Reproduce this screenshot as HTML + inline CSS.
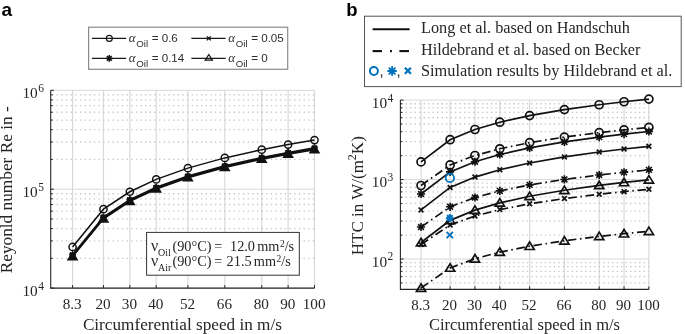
<!DOCTYPE html><html><head><meta charset="utf-8"><style>html,body{margin:0;padding:0;background:#fff;}svg{display:block;will-change:transform;}</style></head><body><svg width="685" height="334" viewBox="0 0 685 334">
<rect width="685" height="334" fill="#fff"/>
<line x1="72.60" y1="90.30" x2="72.60" y2="288.10" stroke="#d9d9d9" stroke-width="1.2"/>
<line x1="103.46" y1="90.30" x2="103.46" y2="288.10" stroke="#d9d9d9" stroke-width="1.2"/>
<line x1="129.84" y1="90.30" x2="129.84" y2="288.10" stroke="#d9d9d9" stroke-width="1.2"/>
<line x1="156.22" y1="90.30" x2="156.22" y2="288.10" stroke="#d9d9d9" stroke-width="1.2"/>
<line x1="187.88" y1="90.30" x2="187.88" y2="288.10" stroke="#d9d9d9" stroke-width="1.2"/>
<line x1="224.81" y1="90.30" x2="224.81" y2="288.10" stroke="#d9d9d9" stroke-width="1.2"/>
<line x1="261.74" y1="90.30" x2="261.74" y2="288.10" stroke="#d9d9d9" stroke-width="1.2"/>
<line x1="288.12" y1="90.30" x2="288.12" y2="288.10" stroke="#d9d9d9" stroke-width="1.2"/>
<line x1="314.50" y1="90.30" x2="314.50" y2="288.10" stroke="#d9d9d9" stroke-width="1.2"/>
<line x1="50.70" y1="90.30" x2="314.50" y2="90.30" stroke="#d9d9d9" stroke-width="1"/>
<line x1="50.70" y1="288.10" x2="314.50" y2="288.10" stroke="#d9d9d9" stroke-width="1"/>
<line x1="51.95" y1="258.33" x2="314.50" y2="258.33" stroke="#c4c4c4" stroke-width="1.3" stroke-dasharray="1.3 3.359"/>
<line x1="51.95" y1="240.91" x2="314.50" y2="240.91" stroke="#c4c4c4" stroke-width="1.3" stroke-dasharray="1.3 3.359"/>
<line x1="51.95" y1="228.56" x2="314.50" y2="228.56" stroke="#c4c4c4" stroke-width="1.3" stroke-dasharray="1.3 3.359"/>
<line x1="51.95" y1="218.97" x2="314.50" y2="218.97" stroke="#c4c4c4" stroke-width="1.3" stroke-dasharray="1.3 3.359"/>
<line x1="51.95" y1="211.14" x2="314.50" y2="211.14" stroke="#c4c4c4" stroke-width="1.3" stroke-dasharray="1.3 3.359"/>
<line x1="51.95" y1="204.52" x2="314.50" y2="204.52" stroke="#c4c4c4" stroke-width="1.3" stroke-dasharray="1.3 3.359"/>
<line x1="51.95" y1="198.78" x2="314.50" y2="198.78" stroke="#c4c4c4" stroke-width="1.3" stroke-dasharray="1.3 3.359"/>
<line x1="51.95" y1="193.73" x2="314.50" y2="193.73" stroke="#c4c4c4" stroke-width="1.3" stroke-dasharray="1.3 3.359"/>
<line x1="50.70" y1="189.20" x2="314.50" y2="189.20" stroke="#d9d9d9" stroke-width="1"/>
<line x1="51.95" y1="159.43" x2="314.50" y2="159.43" stroke="#c4c4c4" stroke-width="1.3" stroke-dasharray="1.3 3.359"/>
<line x1="51.95" y1="142.01" x2="314.50" y2="142.01" stroke="#c4c4c4" stroke-width="1.3" stroke-dasharray="1.3 3.359"/>
<line x1="51.95" y1="129.66" x2="314.50" y2="129.66" stroke="#c4c4c4" stroke-width="1.3" stroke-dasharray="1.3 3.359"/>
<line x1="51.95" y1="120.07" x2="314.50" y2="120.07" stroke="#c4c4c4" stroke-width="1.3" stroke-dasharray="1.3 3.359"/>
<line x1="51.95" y1="112.24" x2="314.50" y2="112.24" stroke="#c4c4c4" stroke-width="1.3" stroke-dasharray="1.3 3.359"/>
<line x1="51.95" y1="105.62" x2="314.50" y2="105.62" stroke="#c4c4c4" stroke-width="1.3" stroke-dasharray="1.3 3.359"/>
<line x1="51.95" y1="99.88" x2="314.50" y2="99.88" stroke="#c4c4c4" stroke-width="1.3" stroke-dasharray="1.3 3.359"/>
<line x1="51.95" y1="94.83" x2="314.50" y2="94.83" stroke="#c4c4c4" stroke-width="1.3" stroke-dasharray="1.3 3.359"/>
<path d="M50.70 90.30 V288.10 H314.50" fill="none" stroke="#262626" stroke-width="1.1"/>
<line x1="72.60" y1="288.10" x2="72.60" y2="285.10" stroke="#262626" stroke-width="1"/>
<line x1="103.46" y1="288.10" x2="103.46" y2="285.10" stroke="#262626" stroke-width="1"/>
<line x1="129.84" y1="288.10" x2="129.84" y2="285.10" stroke="#262626" stroke-width="1"/>
<line x1="156.22" y1="288.10" x2="156.22" y2="285.10" stroke="#262626" stroke-width="1"/>
<line x1="187.88" y1="288.10" x2="187.88" y2="285.10" stroke="#262626" stroke-width="1"/>
<line x1="224.81" y1="288.10" x2="224.81" y2="285.10" stroke="#262626" stroke-width="1"/>
<line x1="261.74" y1="288.10" x2="261.74" y2="285.10" stroke="#262626" stroke-width="1"/>
<line x1="288.12" y1="288.10" x2="288.12" y2="285.10" stroke="#262626" stroke-width="1"/>
<line x1="314.50" y1="288.10" x2="314.50" y2="285.10" stroke="#262626" stroke-width="1"/>
<line x1="50.70" y1="288.10" x2="53.90" y2="288.10" stroke="#262626" stroke-width="1"/>
<line x1="50.70" y1="258.33" x2="52.70" y2="258.33" stroke="#262626" stroke-width="1"/>
<line x1="50.70" y1="240.91" x2="52.70" y2="240.91" stroke="#262626" stroke-width="1"/>
<line x1="50.70" y1="228.56" x2="52.70" y2="228.56" stroke="#262626" stroke-width="1"/>
<line x1="50.70" y1="218.97" x2="52.70" y2="218.97" stroke="#262626" stroke-width="1"/>
<line x1="50.70" y1="211.14" x2="52.70" y2="211.14" stroke="#262626" stroke-width="1"/>
<line x1="50.70" y1="204.52" x2="52.70" y2="204.52" stroke="#262626" stroke-width="1"/>
<line x1="50.70" y1="198.78" x2="52.70" y2="198.78" stroke="#262626" stroke-width="1"/>
<line x1="50.70" y1="193.73" x2="52.70" y2="193.73" stroke="#262626" stroke-width="1"/>
<line x1="50.70" y1="189.20" x2="53.90" y2="189.20" stroke="#262626" stroke-width="1"/>
<line x1="50.70" y1="159.43" x2="52.70" y2="159.43" stroke="#262626" stroke-width="1"/>
<line x1="50.70" y1="142.01" x2="52.70" y2="142.01" stroke="#262626" stroke-width="1"/>
<line x1="50.70" y1="129.66" x2="52.70" y2="129.66" stroke="#262626" stroke-width="1"/>
<line x1="50.70" y1="120.07" x2="52.70" y2="120.07" stroke="#262626" stroke-width="1"/>
<line x1="50.70" y1="112.24" x2="52.70" y2="112.24" stroke="#262626" stroke-width="1"/>
<line x1="50.70" y1="105.62" x2="52.70" y2="105.62" stroke="#262626" stroke-width="1"/>
<line x1="50.70" y1="99.88" x2="52.70" y2="99.88" stroke="#262626" stroke-width="1"/>
<line x1="50.70" y1="94.83" x2="52.70" y2="94.83" stroke="#262626" stroke-width="1"/>
<line x1="50.70" y1="90.30" x2="53.90" y2="90.30" stroke="#262626" stroke-width="1"/>
<line x1="421.03" y1="100.10" x2="421.03" y2="289.40" stroke="#d9d9d9" stroke-width="1.2"/>
<line x1="450.10" y1="100.10" x2="450.10" y2="289.40" stroke="#d9d9d9" stroke-width="1.2"/>
<line x1="474.95" y1="100.10" x2="474.95" y2="289.40" stroke="#d9d9d9" stroke-width="1.2"/>
<line x1="499.80" y1="100.10" x2="499.80" y2="289.40" stroke="#d9d9d9" stroke-width="1.2"/>
<line x1="529.62" y1="100.10" x2="529.62" y2="289.40" stroke="#d9d9d9" stroke-width="1.2"/>
<line x1="564.41" y1="100.10" x2="564.41" y2="289.40" stroke="#d9d9d9" stroke-width="1.2"/>
<line x1="599.20" y1="100.10" x2="599.20" y2="289.40" stroke="#d9d9d9" stroke-width="1.2"/>
<line x1="624.05" y1="100.10" x2="624.05" y2="289.40" stroke="#d9d9d9" stroke-width="1.2"/>
<line x1="648.90" y1="100.10" x2="648.90" y2="289.40" stroke="#d9d9d9" stroke-width="1.2"/>
<line x1="400.40" y1="100.10" x2="648.90" y2="100.10" stroke="#d9d9d9" stroke-width="1"/>
<line x1="401.15" y1="282.92" x2="648.90" y2="282.92" stroke="#c4c4c4" stroke-width="1.3" stroke-dasharray="1.3 3.190"/>
<line x1="401.15" y1="276.63" x2="648.90" y2="276.63" stroke="#c4c4c4" stroke-width="1.3" stroke-dasharray="1.3 3.190"/>
<line x1="401.15" y1="271.31" x2="648.90" y2="271.31" stroke="#c4c4c4" stroke-width="1.3" stroke-dasharray="1.3 3.190"/>
<line x1="401.15" y1="266.70" x2="648.90" y2="266.70" stroke="#c4c4c4" stroke-width="1.3" stroke-dasharray="1.3 3.190"/>
<line x1="401.15" y1="262.64" x2="648.90" y2="262.64" stroke="#c4c4c4" stroke-width="1.3" stroke-dasharray="1.3 3.190"/>
<line x1="400.40" y1="259.00" x2="648.90" y2="259.00" stroke="#d9d9d9" stroke-width="1"/>
<line x1="401.15" y1="235.08" x2="648.90" y2="235.08" stroke="#c4c4c4" stroke-width="1.3" stroke-dasharray="1.3 3.190"/>
<line x1="401.15" y1="221.09" x2="648.90" y2="221.09" stroke="#c4c4c4" stroke-width="1.3" stroke-dasharray="1.3 3.190"/>
<line x1="401.15" y1="211.17" x2="648.90" y2="211.17" stroke="#c4c4c4" stroke-width="1.3" stroke-dasharray="1.3 3.190"/>
<line x1="401.15" y1="203.47" x2="648.90" y2="203.47" stroke="#c4c4c4" stroke-width="1.3" stroke-dasharray="1.3 3.190"/>
<line x1="401.15" y1="197.18" x2="648.90" y2="197.18" stroke="#c4c4c4" stroke-width="1.3" stroke-dasharray="1.3 3.190"/>
<line x1="401.15" y1="191.86" x2="648.90" y2="191.86" stroke="#c4c4c4" stroke-width="1.3" stroke-dasharray="1.3 3.190"/>
<line x1="401.15" y1="187.25" x2="648.90" y2="187.25" stroke="#c4c4c4" stroke-width="1.3" stroke-dasharray="1.3 3.190"/>
<line x1="401.15" y1="183.19" x2="648.90" y2="183.19" stroke="#c4c4c4" stroke-width="1.3" stroke-dasharray="1.3 3.190"/>
<line x1="400.40" y1="179.55" x2="648.90" y2="179.55" stroke="#d9d9d9" stroke-width="1"/>
<line x1="401.15" y1="155.63" x2="648.90" y2="155.63" stroke="#c4c4c4" stroke-width="1.3" stroke-dasharray="1.3 3.190"/>
<line x1="401.15" y1="141.64" x2="648.90" y2="141.64" stroke="#c4c4c4" stroke-width="1.3" stroke-dasharray="1.3 3.190"/>
<line x1="401.15" y1="131.72" x2="648.90" y2="131.72" stroke="#c4c4c4" stroke-width="1.3" stroke-dasharray="1.3 3.190"/>
<line x1="401.15" y1="124.02" x2="648.90" y2="124.02" stroke="#c4c4c4" stroke-width="1.3" stroke-dasharray="1.3 3.190"/>
<line x1="401.15" y1="117.73" x2="648.90" y2="117.73" stroke="#c4c4c4" stroke-width="1.3" stroke-dasharray="1.3 3.190"/>
<line x1="401.15" y1="112.41" x2="648.90" y2="112.41" stroke="#c4c4c4" stroke-width="1.3" stroke-dasharray="1.3 3.190"/>
<line x1="401.15" y1="107.80" x2="648.90" y2="107.80" stroke="#c4c4c4" stroke-width="1.3" stroke-dasharray="1.3 3.190"/>
<line x1="401.15" y1="103.74" x2="648.90" y2="103.74" stroke="#c4c4c4" stroke-width="1.3" stroke-dasharray="1.3 3.190"/>
<path d="M400.40 100.10 V289.40 H648.90" fill="none" stroke="#262626" stroke-width="1.1"/>
<line x1="421.03" y1="289.40" x2="421.03" y2="286.40" stroke="#262626" stroke-width="1"/>
<line x1="450.10" y1="289.40" x2="450.10" y2="286.40" stroke="#262626" stroke-width="1"/>
<line x1="474.95" y1="289.40" x2="474.95" y2="286.40" stroke="#262626" stroke-width="1"/>
<line x1="499.80" y1="289.40" x2="499.80" y2="286.40" stroke="#262626" stroke-width="1"/>
<line x1="529.62" y1="289.40" x2="529.62" y2="286.40" stroke="#262626" stroke-width="1"/>
<line x1="564.41" y1="289.40" x2="564.41" y2="286.40" stroke="#262626" stroke-width="1"/>
<line x1="599.20" y1="289.40" x2="599.20" y2="286.40" stroke="#262626" stroke-width="1"/>
<line x1="624.05" y1="289.40" x2="624.05" y2="286.40" stroke="#262626" stroke-width="1"/>
<line x1="648.90" y1="289.40" x2="648.90" y2="286.40" stroke="#262626" stroke-width="1"/>
<line x1="400.40" y1="282.92" x2="402.40" y2="282.92" stroke="#262626" stroke-width="1"/>
<line x1="400.40" y1="276.63" x2="402.40" y2="276.63" stroke="#262626" stroke-width="1"/>
<line x1="400.40" y1="271.31" x2="402.40" y2="271.31" stroke="#262626" stroke-width="1"/>
<line x1="400.40" y1="266.70" x2="402.40" y2="266.70" stroke="#262626" stroke-width="1"/>
<line x1="400.40" y1="262.64" x2="402.40" y2="262.64" stroke="#262626" stroke-width="1"/>
<line x1="400.40" y1="259.00" x2="403.60" y2="259.00" stroke="#262626" stroke-width="1"/>
<line x1="400.40" y1="235.08" x2="402.40" y2="235.08" stroke="#262626" stroke-width="1"/>
<line x1="400.40" y1="221.09" x2="402.40" y2="221.09" stroke="#262626" stroke-width="1"/>
<line x1="400.40" y1="211.17" x2="402.40" y2="211.17" stroke="#262626" stroke-width="1"/>
<line x1="400.40" y1="203.47" x2="402.40" y2="203.47" stroke="#262626" stroke-width="1"/>
<line x1="400.40" y1="197.18" x2="402.40" y2="197.18" stroke="#262626" stroke-width="1"/>
<line x1="400.40" y1="191.86" x2="402.40" y2="191.86" stroke="#262626" stroke-width="1"/>
<line x1="400.40" y1="187.25" x2="402.40" y2="187.25" stroke="#262626" stroke-width="1"/>
<line x1="400.40" y1="183.19" x2="402.40" y2="183.19" stroke="#262626" stroke-width="1"/>
<line x1="400.40" y1="179.55" x2="403.60" y2="179.55" stroke="#262626" stroke-width="1"/>
<line x1="400.40" y1="155.63" x2="402.40" y2="155.63" stroke="#262626" stroke-width="1"/>
<line x1="400.40" y1="141.64" x2="402.40" y2="141.64" stroke="#262626" stroke-width="1"/>
<line x1="400.40" y1="131.72" x2="402.40" y2="131.72" stroke="#262626" stroke-width="1"/>
<line x1="400.40" y1="124.02" x2="402.40" y2="124.02" stroke="#262626" stroke-width="1"/>
<line x1="400.40" y1="117.73" x2="402.40" y2="117.73" stroke="#262626" stroke-width="1"/>
<line x1="400.40" y1="112.41" x2="402.40" y2="112.41" stroke="#262626" stroke-width="1"/>
<line x1="400.40" y1="107.80" x2="402.40" y2="107.80" stroke="#262626" stroke-width="1"/>
<line x1="400.40" y1="103.74" x2="402.40" y2="103.74" stroke="#262626" stroke-width="1"/>
<line x1="400.40" y1="100.10" x2="403.60" y2="100.10" stroke="#262626" stroke-width="1"/>
<text x="72.20" y="309.30" font-size="15.2" text-anchor="middle" fill="#262626" style="font-family:'Liberation Serif',serif" >8.3</text>
<text x="420.53" y="309.90" font-size="15" text-anchor="middle" fill="#262626" style="font-family:'Liberation Serif',serif" >8.3</text>
<text x="103.06" y="309.30" font-size="15.2" text-anchor="middle" fill="#262626" style="font-family:'Liberation Serif',serif" >20</text>
<text x="449.60" y="309.90" font-size="15" text-anchor="middle" fill="#262626" style="font-family:'Liberation Serif',serif" >20</text>
<text x="129.44" y="309.30" font-size="15.2" text-anchor="middle" fill="#262626" style="font-family:'Liberation Serif',serif" >30</text>
<text x="474.45" y="309.90" font-size="15" text-anchor="middle" fill="#262626" style="font-family:'Liberation Serif',serif" >30</text>
<text x="155.82" y="309.30" font-size="15.2" text-anchor="middle" fill="#262626" style="font-family:'Liberation Serif',serif" >40</text>
<text x="499.30" y="309.90" font-size="15" text-anchor="middle" fill="#262626" style="font-family:'Liberation Serif',serif" >40</text>
<text x="187.48" y="309.30" font-size="15.2" text-anchor="middle" fill="#262626" style="font-family:'Liberation Serif',serif" >52</text>
<text x="529.12" y="309.90" font-size="15" text-anchor="middle" fill="#262626" style="font-family:'Liberation Serif',serif" >52</text>
<text x="224.41" y="309.30" font-size="15.2" text-anchor="middle" fill="#262626" style="font-family:'Liberation Serif',serif" >66</text>
<text x="563.91" y="309.90" font-size="15" text-anchor="middle" fill="#262626" style="font-family:'Liberation Serif',serif" >66</text>
<text x="261.34" y="309.30" font-size="15.2" text-anchor="middle" fill="#262626" style="font-family:'Liberation Serif',serif" >80</text>
<text x="598.70" y="309.90" font-size="15" text-anchor="middle" fill="#262626" style="font-family:'Liberation Serif',serif" >80</text>
<text x="287.72" y="309.30" font-size="15.2" text-anchor="middle" fill="#262626" style="font-family:'Liberation Serif',serif" >90</text>
<text x="623.55" y="309.90" font-size="15" text-anchor="middle" fill="#262626" style="font-family:'Liberation Serif',serif" >90</text>
<text x="314.10" y="309.30" font-size="15.2" text-anchor="middle" fill="#262626" style="font-family:'Liberation Serif',serif" >100</text>
<text x="648.40" y="309.90" font-size="15" text-anchor="middle" fill="#262626" style="font-family:'Liberation Serif',serif" >100</text>
<text fill="#262626" x="44.00" y="296.00" font-size="15.3" text-anchor="end" style="font-family:'Liberation Serif',serif">10<tspan font-size="11.5" dy="-6.5" dx="0.5">4</tspan></text>
<text fill="#262626" x="44.00" y="197.10" font-size="15.3" text-anchor="end" style="font-family:'Liberation Serif',serif">10<tspan font-size="11.5" dy="-6.5" dx="0.5">5</tspan></text>
<text fill="#262626" x="44.00" y="98.20" font-size="15.3" text-anchor="end" style="font-family:'Liberation Serif',serif">10<tspan font-size="11.5" dy="-6.5" dx="0.5">6</tspan></text>
<text fill="#262626" x="393.30" y="266.90" font-size="15.3" text-anchor="end" style="font-family:'Liberation Serif',serif">10<tspan font-size="11.5" dy="-6.5" dx="0.5">2</tspan></text>
<text fill="#262626" x="393.30" y="187.45" font-size="15.3" text-anchor="end" style="font-family:'Liberation Serif',serif">10<tspan font-size="11.5" dy="-6.5" dx="0.5">3</tspan></text>
<text fill="#262626" x="393.30" y="108.00" font-size="15.3" text-anchor="end" style="font-family:'Liberation Serif',serif">10<tspan font-size="11.5" dy="-6.5" dx="0.5">4</tspan></text>
<text x="182.40" y="330.30" font-size="17.2" text-anchor="middle" fill="#262626" style="font-family:'Liberation Serif',serif" >Circumferential speed in m/s</text>
<text x="524.50" y="330.20" font-size="16.5" text-anchor="middle" fill="#262626" style="font-family:'Liberation Serif',serif" >Circumferential speed in m/s</text>
<text fill="#262626" transform="translate(12.3,189.8) rotate(-90)" font-size="17.3" text-anchor="middle" style="font-family:'Liberation Serif',serif">Reyonld number Re in -</text>
<text fill="#262626" transform="translate(363.2,195.7) rotate(-90)" font-size="17" text-anchor="middle" style="font-family:'Liberation Serif',serif">HTC in W/(m<tspan font-size="12" dy="-7">2</tspan><tspan dy="7">K)</tspan></text>
<path d="M72.60 256.40 L103.46 218.63 L129.84 201.21 L156.22 188.86 L187.88 177.59 L224.81 167.35 L261.74 159.09 L288.12 154.03 L314.50 149.50" fill="none" stroke="#111" stroke-width="1.8"/>
<path d="M72.60 255.73 L103.46 217.95 L129.84 200.54 L156.22 188.18 L187.88 176.91 L224.81 166.67 L261.74 158.41 L288.12 153.35 L314.50 148.83" fill="none" stroke="#111" stroke-width="1.8"/>
<path d="M72.60 254.90 L103.46 217.12 L129.84 199.71 L156.22 187.35 L187.88 176.08 L224.81 165.84 L261.74 157.58 L288.12 152.52 L314.50 147.99" fill="none" stroke="#111" stroke-width="1.8"/>
<path d="M72.60 246.96 L103.46 209.18 L129.84 191.77 L156.22 179.41 L187.88 168.14 L224.81 157.90 L261.74 149.64 L288.12 144.58 L314.50 140.05" fill="none" stroke="#111" stroke-width="1.5"/>
<path d="M72.60 252.40L77.00 259.60L68.20 259.60Z" stroke="#111" stroke-width="1.6" fill="#111" stroke-linejoin="miter"/>
<path d="M103.46 214.63L107.86 221.83L99.06 221.83Z" stroke="#111" stroke-width="1.6" fill="#111" stroke-linejoin="miter"/>
<path d="M129.84 197.21L134.24 204.41L125.44 204.41Z" stroke="#111" stroke-width="1.6" fill="#111" stroke-linejoin="miter"/>
<path d="M156.22 184.86L160.62 192.06L151.82 192.06Z" stroke="#111" stroke-width="1.6" fill="#111" stroke-linejoin="miter"/>
<path d="M187.88 173.59L192.28 180.79L183.48 180.79Z" stroke="#111" stroke-width="1.6" fill="#111" stroke-linejoin="miter"/>
<path d="M224.81 163.35L229.21 170.55L220.41 170.55Z" stroke="#111" stroke-width="1.6" fill="#111" stroke-linejoin="miter"/>
<path d="M261.74 155.09L266.14 162.29L257.34 162.29Z" stroke="#111" stroke-width="1.6" fill="#111" stroke-linejoin="miter"/>
<path d="M288.12 150.03L292.52 157.23L283.72 157.23Z" stroke="#111" stroke-width="1.6" fill="#111" stroke-linejoin="miter"/>
<path d="M314.50 145.50L318.90 152.70L310.10 152.70Z" stroke="#111" stroke-width="1.6" fill="#111" stroke-linejoin="miter"/>
<path d="M69.80 252.93L75.40 258.53M69.80 258.53L75.40 252.93" stroke="#111" stroke-width="1.6" fill="none"/>
<path d="M100.66 215.15L106.26 220.75M100.66 220.75L106.26 215.15" stroke="#111" stroke-width="1.6" fill="none"/>
<path d="M127.04 197.74L132.64 203.34M127.04 203.34L132.64 197.74" stroke="#111" stroke-width="1.6" fill="none"/>
<path d="M153.42 185.38L159.02 190.98M153.42 190.98L159.02 185.38" stroke="#111" stroke-width="1.6" fill="none"/>
<path d="M185.08 174.11L190.68 179.71M185.08 179.71L190.68 174.11" stroke="#111" stroke-width="1.6" fill="none"/>
<path d="M222.01 163.87L227.61 169.47M222.01 169.47L227.61 163.87" stroke="#111" stroke-width="1.6" fill="none"/>
<path d="M258.94 155.61L264.54 161.21M258.94 161.21L264.54 155.61" stroke="#111" stroke-width="1.6" fill="none"/>
<path d="M285.32 150.55L290.92 156.15M285.32 156.15L290.92 150.55" stroke="#111" stroke-width="1.6" fill="none"/>
<path d="M311.70 146.03L317.30 151.63M311.70 151.63L317.30 146.03" stroke="#111" stroke-width="1.6" fill="none"/>
<path d="M69.20 254.90H76.00M72.60 251.50V258.30M70.19 252.49L75.00 257.30M70.19 257.30L75.00 252.49" stroke="#111" stroke-width="1.6" fill="none" stroke-linecap="butt"/>
<path d="M100.06 217.12H106.86M103.46 213.72V220.52M101.06 214.72L105.86 219.53M101.06 219.53L105.86 214.72" stroke="#111" stroke-width="1.6" fill="none" stroke-linecap="butt"/>
<path d="M126.44 199.71H133.24M129.84 196.31V203.11M127.44 197.30L132.24 202.11M127.44 202.11L132.24 197.30" stroke="#111" stroke-width="1.6" fill="none" stroke-linecap="butt"/>
<path d="M152.82 187.35H159.62M156.22 183.95V190.75M153.82 184.95L158.62 189.75M153.82 189.75L158.62 184.95" stroke="#111" stroke-width="1.6" fill="none" stroke-linecap="butt"/>
<path d="M184.48 176.08H191.28M187.88 172.68V179.48M185.47 173.68L190.28 178.49M185.47 178.49L190.28 173.68" stroke="#111" stroke-width="1.6" fill="none" stroke-linecap="butt"/>
<path d="M221.41 165.84H228.21M224.81 162.44V169.24M222.40 163.44L227.21 168.25M222.40 168.25L227.21 163.44" stroke="#111" stroke-width="1.6" fill="none" stroke-linecap="butt"/>
<path d="M258.34 157.58H265.14M261.74 154.18V160.98M259.34 155.17L264.14 159.98M259.34 159.98L264.14 155.17" stroke="#111" stroke-width="1.6" fill="none" stroke-linecap="butt"/>
<path d="M284.72 152.52H291.52M288.12 149.12V155.92M285.72 150.12L290.52 154.92M285.72 154.92L290.52 150.12" stroke="#111" stroke-width="1.6" fill="none" stroke-linecap="butt"/>
<path d="M311.10 147.99H317.90M314.50 144.59V151.39M312.10 145.59L316.90 150.40M312.10 150.40L316.90 145.59" stroke="#111" stroke-width="1.6" fill="none" stroke-linecap="butt"/>
<circle cx="72.60" cy="246.96" r="3.6" fill="none" stroke="#111" stroke-width="1.5"/>
<circle cx="103.46" cy="209.18" r="3.6" fill="none" stroke="#111" stroke-width="1.5"/>
<circle cx="129.84" cy="191.77" r="3.6" fill="none" stroke="#111" stroke-width="1.5"/>
<circle cx="156.22" cy="179.41" r="3.6" fill="none" stroke="#111" stroke-width="1.5"/>
<circle cx="187.88" cy="168.14" r="3.6" fill="none" stroke="#111" stroke-width="1.5"/>
<circle cx="224.81" cy="157.90" r="3.6" fill="none" stroke="#111" stroke-width="1.5"/>
<circle cx="261.74" cy="149.64" r="3.6" fill="none" stroke="#111" stroke-width="1.5"/>
<circle cx="288.12" cy="144.58" r="3.6" fill="none" stroke="#111" stroke-width="1.5"/>
<circle cx="314.50" cy="140.05" r="3.6" fill="none" stroke="#111" stroke-width="1.5"/>
<rect x="146.6" y="232.4" width="152.7" height="42.8" fill="#fff" stroke="#333" stroke-width="1"/>
<text fill="#262626" y="251.40" font-size="14.3" style="font-family:'Liberation Serif',serif"><tspan x="151.0" font-size="16">ν</tspan><tspan x="158.0" font-size="10" dy="5.0">Oil</tspan><tspan x="172.4" dy="-5.0">(90°C)</tspan><tspan x="214.3">=</tspan><tspan x="230.00">12.0</tspan><tspan dx="2.2">mm</tspan><tspan font-size="9.5" dy="-4.2" dx="0.4">2</tspan><tspan dy="4.2">/s</tspan></text>
<text fill="#262626" y="266.30" font-size="14.3" style="font-family:'Liberation Serif',serif"><tspan x="151.0" font-size="16">ν</tspan><tspan x="158.0" font-size="10" dy="5.0">Air</tspan><tspan x="172.4" dy="-5.0">(90°C)</tspan><tspan x="214.3">=</tspan><tspan x="226.60">21.5</tspan><tspan dx="2.2">mm</tspan><tspan font-size="9.5" dy="-4.2" dx="0.4">2</tspan><tspan dy="4.2">/s</tspan></text>
<path d="M421.03 161.90 L450.10 139.71 L474.95 129.48 L499.80 122.22 L529.62 115.60 L564.41 109.58 L599.20 104.73 L624.05 101.76 L648.90 99.10" fill="none" stroke="#111" stroke-width="1.7"/>
<path d="M421.03 185.50 L450.10 164.97 L474.95 155.50 L499.80 148.79 L529.62 142.66 L564.41 137.10 L599.20 132.61 L624.05 129.86 L648.90 127.40" fill="none" stroke="#111" stroke-width="1.7" stroke-dasharray="8.6 3.6 1.6 3.6"/>
<path d="M421.03 194.00 L450.10 171.92 L474.95 161.73 L499.80 154.51 L529.62 147.92 L564.41 141.93 L599.20 137.10 L624.05 134.15 L648.90 131.50" fill="none" stroke="#111" stroke-width="1.7"/>
<path d="M421.03 209.90 L450.10 187.43 L474.95 177.07 L499.80 169.71 L529.62 163.01 L564.41 156.92 L599.20 152.00 L624.05 148.99 L648.90 146.30" fill="none" stroke="#111" stroke-width="1.7"/>
<path d="M421.03 227.00 L450.10 206.82 L474.95 197.52 L499.80 190.92 L529.62 184.90 L564.41 179.43 L599.20 175.02 L624.05 172.32 L648.90 169.90" fill="none" stroke="#111" stroke-width="1.7" stroke-dasharray="8.6 3.6 1.6 3.6"/>
<path d="M421.03 242.50 L450.10 220.34 L474.95 210.13 L499.80 202.88 L529.62 196.27 L564.41 190.27 L599.20 185.42 L624.05 182.45 L648.90 179.80" fill="none" stroke="#111" stroke-width="1.7"/>
<path d="M421.03 244.50 L450.10 224.99 L474.95 216.00 L499.80 209.62 L529.62 203.80 L564.41 198.52 L599.20 194.25 L624.05 191.64 L648.90 189.30" fill="none" stroke="#111" stroke-width="1.7" stroke-dasharray="8.6 3.6 1.6 3.6"/>
<path d="M421.03 288.00 L450.10 267.96 L474.95 258.73 L499.80 252.17 L529.62 246.20 L564.41 240.77 L599.20 236.38 L624.05 233.70 L648.90 231.30" fill="none" stroke="#111" stroke-width="1.7" stroke-dasharray="8.6 3.6 1.6 3.6"/>
<circle cx="421.03" cy="161.90" r="4.0" fill="none" stroke="#111" stroke-width="1.7"/>
<circle cx="450.10" cy="139.71" r="4.0" fill="none" stroke="#111" stroke-width="1.7"/>
<circle cx="474.95" cy="129.48" r="4.0" fill="none" stroke="#111" stroke-width="1.7"/>
<circle cx="499.80" cy="122.22" r="4.0" fill="none" stroke="#111" stroke-width="1.7"/>
<circle cx="529.62" cy="115.60" r="4.0" fill="none" stroke="#111" stroke-width="1.7"/>
<circle cx="564.41" cy="109.58" r="4.0" fill="none" stroke="#111" stroke-width="1.7"/>
<circle cx="599.20" cy="104.73" r="4.0" fill="none" stroke="#111" stroke-width="1.7"/>
<circle cx="624.05" cy="101.76" r="4.0" fill="none" stroke="#111" stroke-width="1.7"/>
<circle cx="648.90" cy="99.10" r="4.0" fill="none" stroke="#111" stroke-width="1.7"/>
<circle cx="421.03" cy="185.50" r="4.0" fill="none" stroke="#111" stroke-width="1.7"/>
<circle cx="450.10" cy="164.97" r="4.0" fill="none" stroke="#111" stroke-width="1.7"/>
<circle cx="474.95" cy="155.50" r="4.0" fill="none" stroke="#111" stroke-width="1.7"/>
<circle cx="499.80" cy="148.79" r="4.0" fill="none" stroke="#111" stroke-width="1.7"/>
<circle cx="529.62" cy="142.66" r="4.0" fill="none" stroke="#111" stroke-width="1.7"/>
<circle cx="564.41" cy="137.10" r="4.0" fill="none" stroke="#111" stroke-width="1.7"/>
<circle cx="599.20" cy="132.61" r="4.0" fill="none" stroke="#111" stroke-width="1.7"/>
<circle cx="624.05" cy="129.86" r="4.0" fill="none" stroke="#111" stroke-width="1.7"/>
<circle cx="648.90" cy="127.40" r="4.0" fill="none" stroke="#111" stroke-width="1.7"/>
<path d="M416.93 194.00H425.13M421.03 189.90V198.10M418.13 191.10L423.92 196.90M418.13 196.90L423.92 191.10" stroke="#111" stroke-width="1.6" fill="none" stroke-linecap="butt"/>
<path d="M446.00 171.92H454.20M450.10 167.82V176.02M447.20 169.02L453.00 174.81M447.20 174.81L453.00 169.02" stroke="#111" stroke-width="1.6" fill="none" stroke-linecap="butt"/>
<path d="M470.85 161.73H479.05M474.95 157.63V165.83M472.05 158.83L477.85 164.63M472.05 164.63L477.85 158.83" stroke="#111" stroke-width="1.6" fill="none" stroke-linecap="butt"/>
<path d="M495.70 154.51H503.90M499.80 150.41V158.61M496.90 151.61L502.70 157.41M496.90 157.41L502.70 151.61" stroke="#111" stroke-width="1.6" fill="none" stroke-linecap="butt"/>
<path d="M525.52 147.92H533.72M529.62 143.82V152.02M526.72 145.02L532.52 150.82M526.72 150.82L532.52 145.02" stroke="#111" stroke-width="1.6" fill="none" stroke-linecap="butt"/>
<path d="M560.31 141.93H568.51M564.41 137.83V146.03M561.51 139.04L567.31 144.83M561.51 144.83L567.31 139.04" stroke="#111" stroke-width="1.6" fill="none" stroke-linecap="butt"/>
<path d="M595.10 137.10H603.30M599.20 133.00V141.20M596.30 134.20L602.10 140.00M596.30 140.00L602.10 134.20" stroke="#111" stroke-width="1.6" fill="none" stroke-linecap="butt"/>
<path d="M619.95 134.15H628.15M624.05 130.05V138.25M621.15 131.25L626.95 137.04M621.15 137.04L626.95 131.25" stroke="#111" stroke-width="1.6" fill="none" stroke-linecap="butt"/>
<path d="M644.80 131.50H653.00M648.90 127.40V135.60M646.00 128.60L651.80 134.40M646.00 134.40L651.80 128.60" stroke="#111" stroke-width="1.6" fill="none" stroke-linecap="butt"/>
<path d="M418.63 207.50L423.43 212.30M418.63 212.30L423.43 207.50" stroke="#111" stroke-width="1.7" fill="none"/>
<path d="M447.70 185.03L452.50 189.83M447.70 189.83L452.50 185.03" stroke="#111" stroke-width="1.7" fill="none"/>
<path d="M472.55 174.67L477.35 179.47M472.55 179.47L477.35 174.67" stroke="#111" stroke-width="1.7" fill="none"/>
<path d="M497.40 167.31L502.20 172.11M497.40 172.11L502.20 167.31" stroke="#111" stroke-width="1.7" fill="none"/>
<path d="M527.22 160.61L532.02 165.41M527.22 165.41L532.02 160.61" stroke="#111" stroke-width="1.7" fill="none"/>
<path d="M562.01 154.52L566.81 159.32M562.01 159.32L566.81 154.52" stroke="#111" stroke-width="1.7" fill="none"/>
<path d="M596.80 149.60L601.60 154.40M596.80 154.40L601.60 149.60" stroke="#111" stroke-width="1.7" fill="none"/>
<path d="M621.65 146.59L626.45 151.39M621.65 151.39L626.45 146.59" stroke="#111" stroke-width="1.7" fill="none"/>
<path d="M646.50 143.90L651.30 148.70M646.50 148.70L651.30 143.90" stroke="#111" stroke-width="1.7" fill="none"/>
<path d="M416.93 227.00H425.13M421.03 222.90V231.10M418.13 224.10L423.92 229.90M418.13 229.90L423.92 224.10" stroke="#111" stroke-width="1.6" fill="none" stroke-linecap="butt"/>
<path d="M446.00 206.82H454.20M450.10 202.72V210.92M447.20 203.92L453.00 209.72M447.20 209.72L453.00 203.92" stroke="#111" stroke-width="1.6" fill="none" stroke-linecap="butt"/>
<path d="M470.85 197.52H479.05M474.95 193.42V201.62M472.05 194.62L477.85 200.42M472.05 200.42L477.85 194.62" stroke="#111" stroke-width="1.6" fill="none" stroke-linecap="butt"/>
<path d="M495.70 190.92H503.90M499.80 186.82V195.02M496.90 188.02L502.70 193.82M496.90 193.82L502.70 188.02" stroke="#111" stroke-width="1.6" fill="none" stroke-linecap="butt"/>
<path d="M525.52 184.90H533.72M529.62 180.80V189.00M526.72 182.00L532.52 187.80M526.72 187.80L532.52 182.00" stroke="#111" stroke-width="1.6" fill="none" stroke-linecap="butt"/>
<path d="M560.31 179.43H568.51M564.41 175.33V183.53M561.51 176.53L567.31 182.33M561.51 182.33L567.31 176.53" stroke="#111" stroke-width="1.6" fill="none" stroke-linecap="butt"/>
<path d="M595.10 175.02H603.30M599.20 170.92V179.12M596.30 172.12L602.10 177.92M596.30 177.92L602.10 172.12" stroke="#111" stroke-width="1.6" fill="none" stroke-linecap="butt"/>
<path d="M619.95 172.32H628.15M624.05 168.22V176.42M621.15 169.42L626.95 175.22M621.15 175.22L626.95 169.42" stroke="#111" stroke-width="1.6" fill="none" stroke-linecap="butt"/>
<path d="M644.80 169.90H653.00M648.90 165.80V174.00M646.00 167.00L651.80 172.80M646.00 172.80L651.80 167.00" stroke="#111" stroke-width="1.6" fill="none" stroke-linecap="butt"/>
<path d="M421.03 238.30L425.63 245.80L416.43 245.80Z" stroke="#111" stroke-width="1.7" fill="none" stroke-linejoin="miter"/>
<path d="M450.10 216.14L454.70 223.64L445.50 223.64Z" stroke="#111" stroke-width="1.7" fill="none" stroke-linejoin="miter"/>
<path d="M474.95 205.93L479.55 213.43L470.35 213.43Z" stroke="#111" stroke-width="1.7" fill="none" stroke-linejoin="miter"/>
<path d="M499.80 198.68L504.40 206.18L495.20 206.18Z" stroke="#111" stroke-width="1.7" fill="none" stroke-linejoin="miter"/>
<path d="M529.62 192.07L534.22 199.57L525.02 199.57Z" stroke="#111" stroke-width="1.7" fill="none" stroke-linejoin="miter"/>
<path d="M564.41 186.07L569.01 193.57L559.81 193.57Z" stroke="#111" stroke-width="1.7" fill="none" stroke-linejoin="miter"/>
<path d="M599.20 181.22L603.80 188.72L594.60 188.72Z" stroke="#111" stroke-width="1.7" fill="none" stroke-linejoin="miter"/>
<path d="M624.05 178.25L628.65 185.75L619.45 185.75Z" stroke="#111" stroke-width="1.7" fill="none" stroke-linejoin="miter"/>
<path d="M648.90 175.60L653.50 183.10L644.30 183.10Z" stroke="#111" stroke-width="1.7" fill="none" stroke-linejoin="miter"/>
<path d="M418.63 242.10L423.43 246.90M418.63 246.90L423.43 242.10" stroke="#111" stroke-width="1.7" fill="none"/>
<path d="M447.70 222.59L452.50 227.39M447.70 227.39L452.50 222.59" stroke="#111" stroke-width="1.7" fill="none"/>
<path d="M472.55 213.60L477.35 218.40M472.55 218.40L477.35 213.60" stroke="#111" stroke-width="1.7" fill="none"/>
<path d="M497.40 207.22L502.20 212.02M497.40 212.02L502.20 207.22" stroke="#111" stroke-width="1.7" fill="none"/>
<path d="M527.22 201.40L532.02 206.20M527.22 206.20L532.02 201.40" stroke="#111" stroke-width="1.7" fill="none"/>
<path d="M562.01 196.12L566.81 200.92M562.01 200.92L566.81 196.12" stroke="#111" stroke-width="1.7" fill="none"/>
<path d="M596.80 191.85L601.60 196.65M596.80 196.65L601.60 191.85" stroke="#111" stroke-width="1.7" fill="none"/>
<path d="M621.65 189.24L626.45 194.04M621.65 194.04L626.45 189.24" stroke="#111" stroke-width="1.7" fill="none"/>
<path d="M646.50 186.90L651.30 191.70M646.50 191.70L651.30 186.90" stroke="#111" stroke-width="1.7" fill="none"/>
<path d="M421.03 283.80L425.63 291.30L416.43 291.30Z" stroke="#111" stroke-width="1.7" fill="none" stroke-linejoin="miter"/>
<path d="M450.10 263.76L454.70 271.26L445.50 271.26Z" stroke="#111" stroke-width="1.7" fill="none" stroke-linejoin="miter"/>
<path d="M474.95 254.53L479.55 262.03L470.35 262.03Z" stroke="#111" stroke-width="1.7" fill="none" stroke-linejoin="miter"/>
<path d="M499.80 247.97L504.40 255.47L495.20 255.47Z" stroke="#111" stroke-width="1.7" fill="none" stroke-linejoin="miter"/>
<path d="M529.62 242.00L534.22 249.50L525.02 249.50Z" stroke="#111" stroke-width="1.7" fill="none" stroke-linejoin="miter"/>
<path d="M564.41 236.57L569.01 244.07L559.81 244.07Z" stroke="#111" stroke-width="1.7" fill="none" stroke-linejoin="miter"/>
<path d="M599.20 232.18L603.80 239.68L594.60 239.68Z" stroke="#111" stroke-width="1.7" fill="none" stroke-linejoin="miter"/>
<path d="M624.05 229.50L628.65 237.00L619.45 237.00Z" stroke="#111" stroke-width="1.7" fill="none" stroke-linejoin="miter"/>
<path d="M648.90 227.10L653.50 234.60L644.30 234.60Z" stroke="#111" stroke-width="1.7" fill="none" stroke-linejoin="miter"/>
<circle cx="449.90" cy="178.00" r="4.2" fill="none" stroke="#0072bd" stroke-width="1.8"/>
<path d="M445.80 218.10H453.80M449.80 214.10V222.10M446.97 215.27L452.63 220.93M446.97 220.93L452.63 215.27" stroke="#0072bd" stroke-width="1.9" fill="none" stroke-linecap="butt"/>
<path d="M446.60 231.80L453.00 238.20M446.60 238.20L453.00 231.80" stroke="#0072bd" stroke-width="1.9" fill="none"/>
<rect x="88.6" y="27.2" width="199.1" height="42.1" fill="#fff" stroke="#8a8a8a" stroke-width="1.2"/>
<line x1="91.90" y1="38.40" x2="126.10" y2="38.40" stroke="#1a1a1a" stroke-width="1.2"/>
<circle cx="109.30" cy="38.40" r="3.0" fill="none" stroke="#111" stroke-width="1.1"/>
<text fill="#2e2e2e" x="128.80" y="42.20" font-size="11.6" style="font-family:'Liberation Sans',sans-serif"><tspan font-family="Liberation Serif" font-style="italic" font-size="13">α</tspan><tspan font-size="9.7" dy="4.4" dx="0.7">Oil</tspan><tspan dy="-4.4" dx="0.3"> = 0.6</tspan></text>
<line x1="191.40" y1="38.40" x2="225.60" y2="38.40" stroke="#1a1a1a" stroke-width="1.2"/>
<path d="M206.80 36.40L210.80 40.40M206.80 40.40L210.80 36.40" stroke="#111" stroke-width="1.3" fill="none"/>
<text fill="#2e2e2e" x="228.30" y="42.20" font-size="11.6" style="font-family:'Liberation Sans',sans-serif"><tspan font-family="Liberation Serif" font-style="italic" font-size="13">α</tspan><tspan font-size="9.7" dy="4.4" dx="0.7">Oil</tspan><tspan dy="-4.4" dx="0.3"> = 0.05</tspan></text>
<line x1="91.90" y1="58.40" x2="126.10" y2="58.40" stroke="#1a1a1a" stroke-width="1.2"/>
<path d="M105.90 58.40H112.70M109.30 55.00V61.80M106.90 56.00L111.70 60.80M106.90 60.80L111.70 56.00" stroke="#111" stroke-width="1.5" fill="none" stroke-linecap="butt"/>
<text fill="#2e2e2e" x="128.80" y="62.20" font-size="11.6" style="font-family:'Liberation Sans',sans-serif"><tspan font-family="Liberation Serif" font-style="italic" font-size="13">α</tspan><tspan font-size="9.7" dy="4.4" dx="0.7">Oil</tspan><tspan dy="-4.4" dx="0.3"> = 0.14</tspan></text>
<line x1="191.40" y1="58.40" x2="225.60" y2="58.40" stroke="#1a1a1a" stroke-width="1.2"/>
<path d="M208.80 54.50L212.40 60.20L205.20 60.20Z" stroke="#111" stroke-width="1.2" fill="none" stroke-linejoin="miter"/>
<text fill="#2e2e2e" x="228.30" y="62.20" font-size="11.6" style="font-family:'Liberation Sans',sans-serif"><tspan font-family="Liberation Serif" font-style="italic" font-size="13">α</tspan><tspan font-size="9.7" dy="4.4" dx="0.7">Oil</tspan><tspan dy="-4.4" dx="0.3"> = 0</tspan></text>
<rect x="364.5" y="16.2" width="316.7" height="70.4" fill="#fff" stroke="#555" stroke-width="1"/>
<line x1="372.6" y1="29.2" x2="409.6" y2="29.2" stroke="#111" stroke-width="2.1"/>
<line x1="372.6" y1="51.1" x2="382.0" y2="51.1" stroke="#111" stroke-width="2.1"/>
<line x1="390.0" y1="51.1" x2="391.9" y2="51.1" stroke="#111" stroke-width="2.1"/>
<line x1="399.4" y1="51.1" x2="409.0" y2="51.1" stroke="#111" stroke-width="2.1"/>
<text x="421.00" y="32.70" font-size="16.3" text-anchor="start" fill="#262626" style="font-family:'Liberation Serif',serif" >Long et al. based on Handschuh</text>
<text x="421.00" y="54.70" font-size="16.2" text-anchor="start" fill="#262626" style="font-family:'Liberation Serif',serif" >Hildebrand et al. based on Becker</text>
<text x="421.00" y="75.70" font-size="16.3" text-anchor="start" fill="#262626" style="font-family:'Liberation Serif',serif" >Simulation results by Hildebrand et al.</text>
<circle cx="373.90" cy="71.00" r="4.0" fill="none" stroke="#0072bd" stroke-width="2.0"/>
<text x="379.40" y="76.40" font-size="15" text-anchor="start" fill="#262626" style="font-family:'Liberation Sans',sans-serif" >,</text>
<path d="M388.10 71.00H396.10M392.10 67.00V75.00M389.27 68.17L394.93 73.83M389.27 73.83L394.93 68.17" stroke="#0072bd" stroke-width="1.9" fill="none" stroke-linecap="round"/>
<text x="396.40" y="76.40" font-size="15" text-anchor="start" fill="#262626" style="font-family:'Liberation Sans',sans-serif" >,</text>
<path d="M404.90 67.80L410.90 73.80M404.90 73.80L410.90 67.80" stroke="#0072bd" stroke-width="2.3" fill="none"/>
<text fill="#000" x="1.5" y="16.4" font-size="19" font-weight="bold" style="font-family:'Liberation Sans',sans-serif">a</text>
<text fill="#000" x="346.3" y="16.2" font-size="18.5" font-weight="bold" style="font-family:'Liberation Sans',sans-serif">b</text>
</svg></body></html>
